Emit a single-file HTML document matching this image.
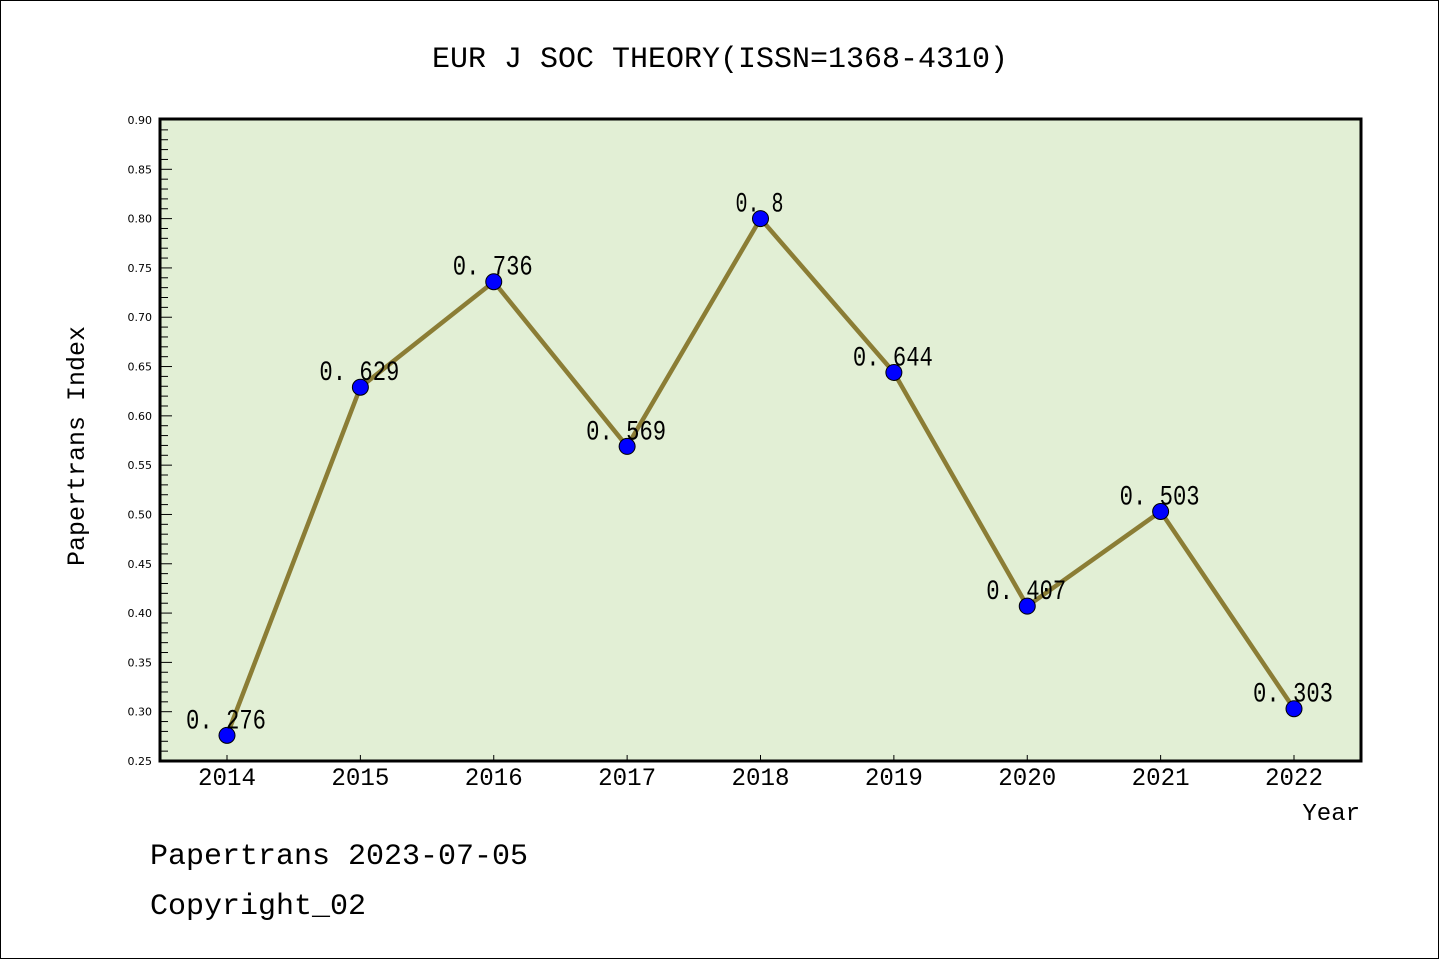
<!DOCTYPE html>
<html><head><meta charset="utf-8"><style>
html,body{margin:0;padding:0;background:#fff;}
svg{display:block;}
text{font-family:"Liberation Mono","WenQuanYi Zen Hei",monospace;fill:#000;}
.tk{font-family:"DejaVu Sans","Liberation Sans",sans-serif;font-size:11px;}
</style></head><body>
<svg id="chart" width="1440" height="960" xmlns="http://www.w3.org/2000/svg">
<rect x="0.5" y="0.5" width="1438" height="958" fill="#fff" stroke="#000" stroke-width="1"/>
<text x="720" y="67" font-size="30" text-anchor="middle">EUR J SOC THEORY(ISSN=1368-4310)</text>
<rect x="160" y="119" width="1201" height="642" fill="#e2efd5"/>
<g id="ticks"></g>
<g id="marks"></g>
<rect x="160" y="119" width="1201" height="642" fill="none" stroke="#000" stroke-width="3"/>
<text transform="translate(84,446) rotate(-90)" font-size="25" text-anchor="middle">Papertrans Index</text>
<text x="1360" y="820" font-size="24" text-anchor="end">Year</text>
<text x="150" y="864" font-size="30">Papertrans 2023-07-05</text>
<text x="150" y="914" font-size="30">Copyright_02</text>
</svg>
<script>
const years = ["2014","2015","2016","2017","2018","2019","2020","2021","2022"];
const values = [0.276,0.629,0.736,0.569,0.8,0.644,0.407,0.503,0.303];
const yTickLabels = ["0.25","0.30","0.35","0.40","0.45","0.50","0.55","0.60","0.65","0.70","0.75","0.80","0.85","0.90"];
const NS="http://www.w3.org/2000/svg";
const yMin=0.25,yMax=0.90,plotTop=120,plotBot=761,x0=227,x1=1294;
function yS(v){return plotBot-(v-yMin)/(yMax-yMin)*(plotBot-plotTop);}
function xS(i){return x0+i*(x1-x0)/(years.length-1);}
function mk(tag,attrs,parent){const e=document.createElementNS(NS,tag);for(const k in attrs)e.setAttribute(k,attrs[k]);parent.appendChild(e);return e;}
const tg=document.getElementById('ticks'), mg=document.getElementById('marks');
for(let k=0;k<=65;k++){
  const v=yMin+k*0.01, y=yS(v), major=k%5===0;
  const t=mk('line',{x1:160,x2:160+(major?12:8),y1:y,y2:y,stroke:'#000','stroke-width':1},tg);
  
  
}
yTickLabels.forEach(l=>{
  const t=mk('text',{x:152,y:yS(parseFloat(l))+4,'text-anchor':'end',class:'tk'},tg);
  t.textContent=l;
  
  
});
years.forEach((yr,i)=>{
  const t=mk('line',{x1:xS(i),x2:xS(i),y1:plotBot,y2:plotBot-6,stroke:'#000','stroke-width':1},tg);
  
  
  const l=mk('text',{x:xS(i),y:785,'text-anchor':'middle','font-size':25,textLength:58,lengthAdjust:'spacingAndGlyphs'},tg);
  l.textContent=yr;
  
  
});
const pts=values.map((v,i)=>xS(i)+','+yS(v)).join(' ');
const line=mk('polyline',{points:pts,fill:'none',stroke:'#8b7d35','stroke-width':4.5,'stroke-linejoin':'round'},mg);


values.forEach((v,i)=>{
  const c=mk('circle',{cx:xS(i),cy:yS(v),r:8,fill:'#0000ff',stroke:'#000','stroke-width':1},mg);
  
  
  const s=String(v);
  const t=mk('text',{x:xS(i)-1,y:yS(v)-7,'text-anchor':'middle','font-size':28,textLength:16*s.length,lengthAdjust:'spacingAndGlyphs'},mg);
  t.textContent=s.replace('.','. ');
  
  
});
</script>
</body></html>
